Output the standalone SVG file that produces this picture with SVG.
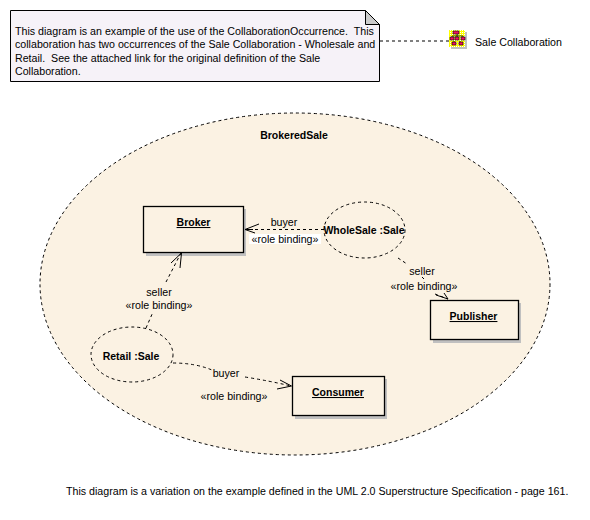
<svg xmlns="http://www.w3.org/2000/svg" width="590" height="520" viewBox="0 0 590 520">
<style>
text{font-family:"Liberation Sans",Arial,sans-serif;font-size:10.65px;fill:#000;white-space:pre}
.m{text-anchor:middle}
.b{font-weight:bold;font-size:10.5px}
.u{text-decoration:underline}
.c{fill:#FBF2E3;stroke:#000;stroke-width:1;stroke-dasharray:3 3}
.box{fill:#FBF2E3;stroke:#000;stroke-width:1.3}
.sh{fill:#C0C0C0}
.ln{fill:none;stroke:#000;stroke-width:1;stroke-dasharray:3 3}
.ar{fill:none;stroke:#000;stroke-width:1}
</style>
<defs>
<pattern id="chk" width="2" height="2" patternUnits="userSpaceOnUse">
<rect width="2" height="2" fill="#FFFF00"/>
<rect width="1" height="1" fill="#fff"/>
</pattern>
</defs>
<rect width="590" height="520" fill="#fff"/>
<g id="note">
<path d="M10.500 10.500H365.500L379.500 24.500V81.500H10.500Z" fill="#F6F2F8" stroke="#000"/>
<path d="M365.500 10.500V24.500H379.500Z" fill="#CCCCCC" stroke="#000"/>
<text x="15" y="35">This diagram is an example of the use of the CollaborationOccurrence.  This</text>
<text x="15" y="48">collaboration has two occurrences of the Sale Collaboration - Wholesale and</text>
<text x="15" y="62">Retail.  See the attached link for the original definition of the Sale</text>
<text x="15" y="75">Collaboration.</text>
</g>
<g id="sale-collaboration">
<rect x="451" y="32" width="16" height="17" fill="#C0C0C0"/>
<rect x="449" y="30" width="16" height="17" fill="url(#chk)"/>
<path d="M457 33V36M452 38V36H463V38M457 36V38M454 41V43M460 41V43" fill="none" stroke="#000" stroke-width=".8"/>
<path d="M453 31h6v3h-6zM450 37h4v3h-4zM455 37h4v3h-4zM461 37h4v3h-4zM452 42h4v3h-4zM459 42h4v3h-4z" fill="#F01060" stroke="#000" stroke-width=".6"/>
<text x="475" y="46">Sale Collaboration</text>
</g>
<g id="brokeredsale">
<ellipse class="c" cx="295" cy="284" rx="255" ry="171"/>
<text class="m b" x="294" y="139">BrokeredSale</text>
</g>
<g id="broker">
<rect class="sh" x="146" y="209" width="100" height="47"/>
<rect class="box" x="143.500" y="206.500" width="100" height="46"/>
<text class="m b u" x="193.500" y="226">Broker</text>
</g>
<g id="publisher">
<rect class="sh" x="433" y="303" width="88" height="40"/>
<rect class="box" x="430.500" y="300.500" width="88" height="39"/>
<text class="m b u" x="473.500" y="320">Publisher</text>
</g>
<g id="consumer">
<rect class="sh" x="295" y="379" width="92" height="40"/>
<rect class="box" x="292.500" y="376.500" width="92" height="39"/>
<text class="m b u" x="338" y="396">Consumer</text>
</g>
<g id="connectors">
<path class="ln" d="M380 41H449"/>
<path class="ln" d="M324 229.500H245"/>
<path class="ar" d="M259 224L245 229.500L253 229.500M245 229.500L255 233"/>
<rect x="249" y="234" width="72" height="10" fill="#fff"/>
<path class="ln" d="M146 328L153 312M166 282L181 253"/>
<path class="ar" d="M171 263L181.500 253L180 268"/>
<path class="ln" d="M398 258L407 264M422 277L424 279M435 294L448 299"/>
<path class="ar" d="M444 293L448 299L436 295"/>
<path class="ln" d="M173 363Q195 363 212 370M245 377Q270 381 291 386"/>
<path class="ar" d="M280 380L291.500 386L277 389"/>
</g>
<g id="wholesale">
<ellipse class="c" cx="364.500" cy="230" rx="40.500" ry="28"/>
<text class="m b" x="364" y="234">WholeSale :Sale</text>
</g>
<g id="retail">
<ellipse class="c" cx="132" cy="354.500" rx="41" ry="27.500"/>
<text class="m b" x="131" y="360">Retail :Sale</text>
</g>
<g id="labels">
<text class="m" x="284" y="226">buyer</text>
<text class="m" x="285" y="243">«role binding»</text>
<text class="m" x="159" y="296">seller</text>
<text class="m" x="159" y="309">«role binding»</text>
<text class="m" x="422" y="275">seller</text>
<text class="m" x="424" y="290">«role binding»</text>
<text class="m" x="226" y="377">buyer</text>
<text class="m" x="234" y="400">«role binding»</text>
</g>
<text x="66" y="495">This diagram is a variation on the example defined in the UML 2.0 Superstructure Specification - page 161.</text>
</svg>
